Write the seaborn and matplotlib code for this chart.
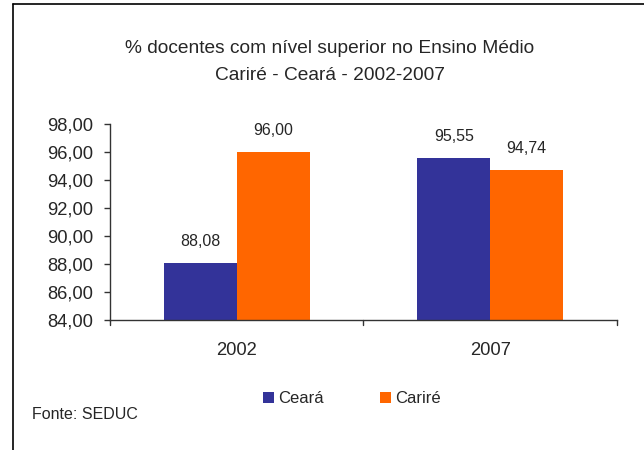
import pandas as pd
import matplotlib.pyplot as plt
import seaborn as sns
from matplotlib.lines import Line2D
from matplotlib.patches import Patch
from matplotlib.ticker import FuncFormatter

# data
anos = ["2002", "2007"]
regioes = ["Ceará", "Cariré"]
ceara = [88.08, 95.55]
carire = [96.00, 94.74]
cores = ["#333399", "#FF6600"]

df = pd.DataFrame({
    "Ano": anos * 2,
    "Região": [regioes[0]] * 2 + [regioes[1]] * 2,
    "Valor": ceara + carire,
})

sns.set_style("white")
plt.rcParams["font.family"] = ["Liberation Sans", "DejaVu Sans"]

fig = plt.figure(figsize=(6.44, 4.5), dpi=100)
ax = fig.add_axes([0.1708, 0.2889, 0.7872, 0.4355])

sns.barplot(data=df, x="Ano", y="Valor", hue="Região", palette=cores,
            width=0.576, saturation=1, linewidth=0, edgecolor="none",
            ax=ax, legend=False)

ax.set_ylim(84, 98)
ax.set_yticks(range(84, 99, 2))
ax.yaxis.set_major_formatter(FuncFormatter(lambda v, p: f"{v:.2f}".replace(".", ",")))
ax.set_xlim(-0.5, 1.5)
ax.set_xticks([0, 1])
ax.set_xticklabels(anos)
ax.tick_params(axis="x", length=0, labelsize=13.2, pad=16)
ax.tick_params(axis="y", length=4, width=1, direction="out", labelsize=13.2,
               pad=8, left=True, color="#333333")
# category boundary ticks on the x axis
for xb in [-0.5, 0.5, 1.5]:
    ax.plot([xb, xb], [0, -0.025], transform=ax.get_xaxis_transform(),
            color="#333333", lw=1, clip_on=False)
ax.set_xlabel("")
ax.set_ylabel("")
for s in ["top", "right"]:
    ax.spines[s].set_visible(False)
for s in ["left", "bottom"]:
    ax.spines[s].set_color("#333333")
    ax.spines[s].set_linewidth(1)

for cont in ax.containers:
    ax.bar_label(cont, labels=[f"{b.get_height():.2f}".replace(".", ",") for b in cont],
                 padding=10, fontsize=11.5)

# title
fig.text(0.5124, 1 - 53 / 450, "% docentes com nível superior no Ensino Médio",
         ha="center", va="baseline", fontsize=13.8)
fig.text(0.5124, 1 - 80 / 450, "Cariré - Ceará - 2002-2007",
         ha="center", va="baseline", fontsize=13.8)

# legend
handles = [Patch(facecolor=c, edgecolor="none") for c in cores]
fig.legend(handles, regioes, loc="center", bbox_to_anchor=(0.546, 0.1144),
           ncol=2, frameon=False, fontsize=12, handlelength=0.66,
           handleheight=0.66, handletextpad=0.24, columnspacing=3.4,
           borderpad=0, borderaxespad=0)

fig.text(0.0497, 0.078, "Fonte: SEDUC", ha="left", va="center", fontsize=11.5)

# frame lines (top and left) like the original export
fig.add_artist(Line2D([13 / 644, 1], [1 - 4 / 450, 1 - 4 / 450],
                      transform=fig.transFigure, color="black", lw=1.2))
fig.add_artist(Line2D([13 / 644, 13 / 644], [0, 1 - 4 / 450],
                      transform=fig.transFigure, color="black", lw=1.2))

fig.savefig("out.png", dpi=100, facecolor="white")
